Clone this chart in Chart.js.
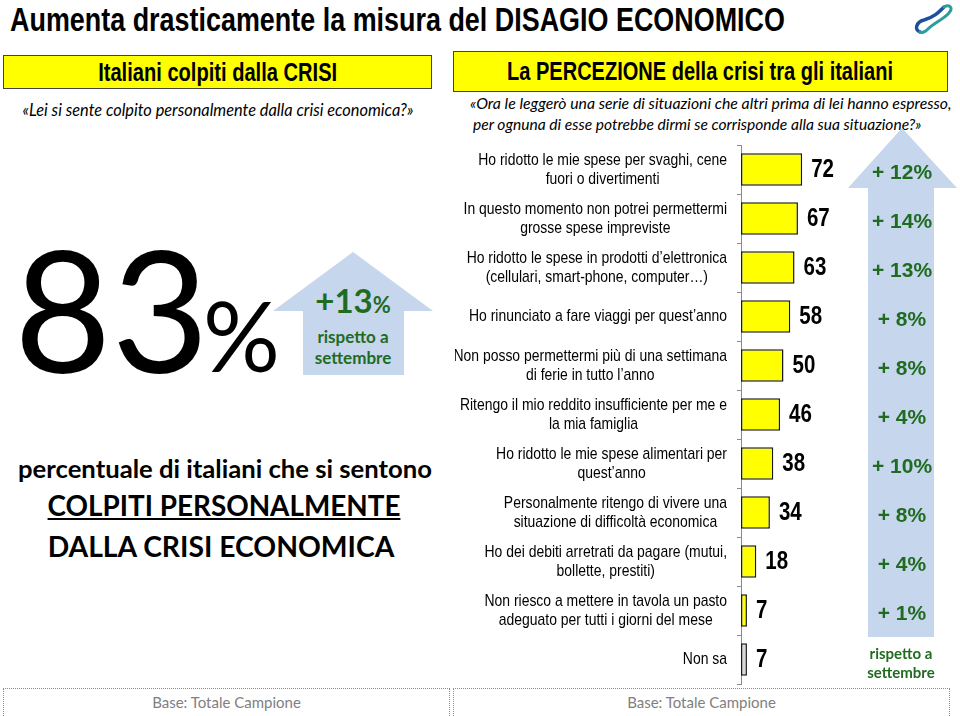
<!DOCTYPE html>
<html>
<head>
<meta charset="utf-8">
<script src="https://cdn.jsdelivr.net/npm/chart.js@4.4.1/dist/chart.umd.min.js"></script>
<style>
  body { margin: 0; width: 960px; height: 716px; position: relative; overflow: hidden; background: #fff; font-family: Lato, sans-serif; }
  .t { position: absolute; white-space: nowrap; }
  .narrow { font-family: "Liberation Sans", Arial, sans-serif; }
  .fit { display: inline-block; }
  .ybox { position: absolute; background: #ffff00; border: 1px solid #444; box-sizing: border-box; }
  .green { color: #1f6b1f; font-weight: bold; }
  .base { position: absolute; top: 688px; height: 40px; border: 1px dotted #8c8c8c; box-sizing: border-box; color: #808080; text-align: center; line-height: 27px; font-size: 15px; }
  #chartWrap { position: absolute; left: 455px; top: 120px; }
</style>
</head>
<body>

<div class="t narrow" style="left:10px;top:1px;line-height:38px;font-weight:bold;font-size:33px;"><span class="fit sx" data-w="775" style="transform-origin:left center">Aumenta drasticamente la misura del DISAGIO ECONOMICO</span></div>

<svg class="t" style="left:912px;top:3px" width="46" height="32" viewBox="0 0 46 32">
  <path d="M8 29 C2 27 4 19 12 17 C22 14 26 10 32 4" stroke="#1d4f9e" stroke-width="3.5" fill="none" stroke-linecap="round"/>
  <path d="M32 4 C38 1 42 5 36 11 C30 17 22 20 16 26 C13 29 10 30 8 29" stroke="#2a9f9a" stroke-width="3" fill="none" stroke-linecap="round"/>
</svg>

<div class="ybox" style="left:3px;top:55px;width:429px;height:34px;"></div>
<div class="t narrow" style="left:3px;top:55px;width:429px;line-height:34px;text-align:center;font-weight:bold;font-size:25px;"><span class="fit sx" data-w="239">Italiani colpiti dalla CRISI</span></div>

<div class="ybox" style="left:453px;top:51px;width:495px;height:41px;"></div>
<div class="t narrow" style="left:453px;top:51px;width:495px;line-height:41px;text-align:center;font-weight:bold;font-size:25px;"><span class="fit sx" data-w="386">La PERCEZIONE della crisi tra gli italiani</span></div>

<div class="t" style="left:0;top:99px;width:436px;line-height:22px;text-align:center;font-style:italic;font-size:15px;"><span class="fit" data-w="391">«Lei si sente colpito personalmente dalla crisi economica?»</span></div>

<div class="t" style="left:470px;top:92px;line-height:22px;font-style:italic;font-size:15px;"><span class="fit" data-w="482">«Ora le leggerò una serie di situazioni che altri prima di lei hanno espresso,</span></div>
<div class="t" style="left:473px;top:113px;line-height:22px;font-style:italic;font-size:15px;"><span class="fit" data-w="449">per ognuna di esse potrebbe dirmi se corrisponde alla sua situazione?»</span></div>

<div class="t" style="left:14px;top:208px;line-height:200px;font-size:168px;color:#000;">83</div>
<div class="t" style="left:203px;top:280px;line-height:110px;font-size:96px;color:#000;">%</div>

<svg class="t" style="left:270px;top:248px" width="170" height="132">
  <polygon points="83,4 3,63 33,63 33,127 134,127 134,63 163,63" fill="#c6d6ec"/>
</svg>
<div class="t green" style="left:270px;top:282px;width:166px;text-align:center;line-height:36px;font-size:33px;">+13<span style="font-size:22px">%</span></div>
<div class="t green" style="left:270px;top:327px;width:166px;text-align:center;line-height:20px;font-size:17px;">rispetto a</div>
<div class="t green" style="left:270px;top:348px;width:166px;text-align:center;line-height:20px;font-size:17px;">settembre</div>

<div class="t" style="left:0;top:454px;width:450px;line-height:28px;text-align:center;font-weight:bold;font-size:23px;"><span class="fit" data-w="414">percentuale di italiani che si sentono</span></div>
<div class="t" style="left:0;top:490px;width:448px;line-height:32px;text-align:center;font-size:27px;font-weight:bold;"><span class="fit" data-w="353" style="text-decoration:underline;">COLPITI PERSONALMENTE</span></div>
<div class="t" style="left:0;top:530px;width:442px;line-height:32px;text-align:center;font-size:27px;font-weight:bold;"><span class="fit" data-w="347">DALLA CRISI ECONOMICA</span></div>

<div class="base" style="left:3px;width:447px;">Base: Totale Campione</div>
<div class="base" style="left:453px;width:497px;">Base: Totale Campione</div>

<div id="chartWrap"><canvas id="chart" width="505" height="580"></canvas></div>

<script>
// situazioni (righe del grafico), dall'alto in basso
const categories = [
  ["Ho ridotto le mie spese per svaghi, cene", "fuori o divertimenti"],
  ["In questo momento non potrei permettermi", "grosse spese impreviste"],
  ["Ho ridotto le spese in prodotti d\u2019elettronica", "(cellulari, smart-phone, computer\u2026)"],
  ["Ho rinunciato a fare viaggi per quest\u2019anno"],
  ["Non posso permettermi più di una settimana", "di ferie in tutto l\u2019anno"],
  ["Ritengo il mio reddito insufficiente per me e", "la mia famiglia"],
  ["Ho ridotto le mie spese alimentari per", "quest\u2019anno"],
  ["Personalmente ritengo di vivere una", "situazione di difficoltà economica"],
  ["Ho dei debiti arretrati da pagare (mutui,", "bollette, prestiti)"],
  ["Non riesco a mettere in tavola un pasto", "adeguato per tutti i giorni del mese"],
  ["Non sa"]
];
const values = [72, 67, 63, 58, 50, 46, 38, 34, 18, 7, 7];
// variazione rispetto a settembre (punti %)
const changes = [12, 14, 13, 8, 8, 4, 10, 8, 4, 1, null];
const barColors = ["#ffff00", "#ffff00", "#ffff00", "#ffff00", "#ffff00", "#ffff00",
                   "#ffff00", "#ffff00", "#ffff00", "#ffff00", "#d9d9d9"];

// no Arial Narrow here: squeeze Liberation Sans instead
const SANS = "'Liberation Sans', Arial, sans-serif";
const SQUEEZE = 0.82;

// fit the html texts to the widths measured on the slide
document.querySelectorAll("[data-w]").forEach(el => {
  const target = +el.dataset.w;
  const w = el.getBoundingClientRect().width;
  if (el.classList.contains("sx")) {
    if (!el.style.transformOrigin) el.style.transformOrigin = "center center";
    el.style.transform = "scaleX(" + (target / w) + ")";
  } else {
    const fs = parseFloat(getComputedStyle(el).fontSize);
    el.style.fontSize = (fs * target / w) + "px";
  }
});

function squeezedText(ctx, text, x, y) {
  ctx.save();
  ctx.translate(x, y);
  ctx.scale(SQUEEZE, 1);
  ctx.fillText(text, 0, 0);
  ctx.restore();
}

// category labels: each one centred on its own widest line, right edge near the axis
const labelsPlugin = {
  id: "labels",
  afterDraw(chart) {
    const ctx = chart.ctx;
    const y = chart.scales.y;
    const right = chart.chartArea.left - 14;
    ctx.save();
    ctx.font = "17px " + SANS;
    ctx.fillStyle = "#000";
    ctx.textAlign = "center";
    ctx.textBaseline = "middle";
    categories.forEach((lines, i) => {
      const cy = y.getPixelForValue(i);
      const w = Math.max(...lines.map(l => ctx.measureText(l).width)) * SQUEEZE;
      const cx = right - w / 2;
      const lh = 19;
      lines.forEach((l, j) => {
        squeezedText(ctx, l, cx, cy + (j - (lines.length - 1) / 2) * lh);
      });
    });
    ctx.restore();
  }
};

// values at the bar ends
const valuesPlugin = {
  id: "values",
  afterDatasetsDraw(chart) {
    const ctx = chart.ctx;
    const meta = chart.getDatasetMeta(0);
    ctx.save();
    ctx.font = "bold 25px " + SANS;
    ctx.fillStyle = "#000";
    ctx.textAlign = "left";
    ctx.textBaseline = "middle";
    meta.data.forEach((bar, i) => {
      squeezedText(ctx, String(values[i]), bar.x + 9, bar.y + 1);
    });
    ctx.restore();
  }
};

// big blue arrow with the changes vs september
const changesPlugin = {
  id: "changes",
  beforeDatasetsDraw(chart) {
    const ctx = chart.ctx;
    const y = chart.scales.y;
    const cx = 447;
    ctx.save();
    ctx.fillStyle = "#c6d6ec";
    ctx.beginPath();
    ctx.moveTo(cx, 8);
    ctx.lineTo(cx + 55, 68);
    ctx.lineTo(cx + 32, 68);
    ctx.lineTo(cx + 32, 517);
    ctx.lineTo(cx - 34, 517);
    ctx.lineTo(cx - 34, 68);
    ctx.lineTo(cx - 54, 68);
    ctx.closePath();
    ctx.fill();

    ctx.fillStyle = "#1f6b1f";
    ctx.textAlign = "center";
    ctx.textBaseline = "middle";
    ctx.font = "bold 21px " + SANS;
    changes.forEach((c, i) => {
      if (c === null) return;
      ctx.fillText("+ " + c + "%", cx, y.getPixelForValue(i) + 4);
    });
    ctx.font = "bold 15px Lato, sans-serif";
    ctx.fillText("rispetto a", cx - 1, 534);
    ctx.fillText("settembre", cx - 1, 553);
    ctx.restore();
  }
};

new Chart(document.getElementById("chart"), {
  type: "bar",
  data: {
    labels: categories.map(l => l.join(" ")),
    datasets: [{
      data: values,
      backgroundColor: barColors,
      borderColor: "#1a1a1a",
      borderWidth: 1.5,
      borderSkipped: false,
      categoryPercentage: 1,
      barPercentage: 0.66
    }]
  },
  options: {
    indexAxis: "y",
    responsive: false,
    animation: false,
    layout: { padding: { top: 25, bottom: 16, left: 0, right: 134 } },
    plugins: { legend: { display: false }, tooltip: { enabled: false } },
    scales: {
      x: { display: false, min: 0, max: 100 },
      y: {
        afterFit(scale) { scale.width = 286; },
        ticks: { display: false },
        border: { display: true, color: "#8a8a8a", width: 1 },
        grid: { drawOnChartArea: false, drawTicks: true, tickLength: 4, color: "#8a8a8a", offset: true }
      }
    }
  },
  plugins: [labelsPlugin, valuesPlugin, changesPlugin]
});
</script>
</body>
</html>
